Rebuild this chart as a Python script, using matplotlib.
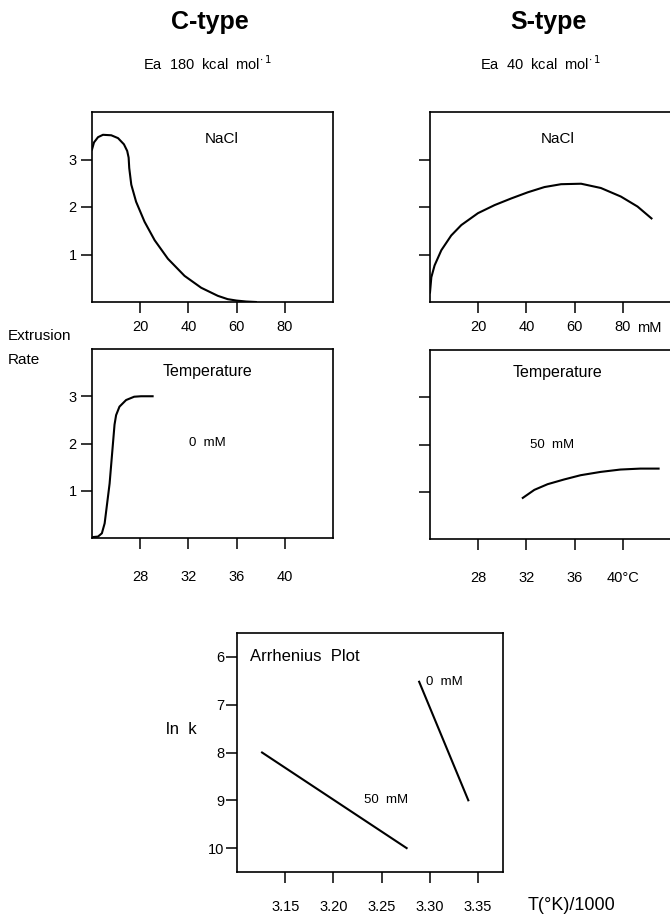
import matplotlib.pyplot as plt

plt.rcParams['font.family'] = ['Liberation Sans', 'DejaVu Sans']

# C-type, NaCl dependence (mM vs extrusion rate)
c_nacl_x = [0, 0.83, 2.5, 4.55, 8.0, 10.8, 13.25, 14.6, 15.2, 15.45, 16.3, 18.3, 21.8, 26.0, 31.5, 38.4, 45.3, 52.2, 56.3, 60, 64, 68]
c_nacl_y = [3.21, 3.36, 3.47, 3.52, 3.51, 3.45, 3.32, 3.18, 3.04, 2.82, 2.47, 2.11, 1.69, 1.30, 0.91, 0.55, 0.30, 0.13, 0.06, 0.03, 0.01, 0.0]

# S-type, NaCl dependence
s_nacl_x = [0, 0.55, 1.9, 4.7, 8.8, 13.0, 19.9, 26.8, 33.7, 40.6, 47.5, 54.4, 62.7, 70.9, 79.2, 86.1, 91.9]
s_nacl_y = [0.2, 0.52, 0.77, 1.09, 1.40, 1.62, 1.87, 2.04, 2.18, 2.31, 2.42, 2.48, 2.49, 2.40, 2.22, 2.01, 1.76]

# C-type, temperature dependence at 0 mM
c_temp_x = [24.0, 24.08, 24.5, 24.82, 25.05, 25.46, 25.87, 26.0, 26.28, 26.83, 27.5, 28.07, 29.03]
c_temp_y = [0.0, 0.02, 0.03, 0.1, 0.31, 1.15, 2.40, 2.6, 2.78, 2.92, 2.99, 3.0, 3.0]

# S-type, temperature dependence at 50 mM
s_temp_x = [31.7, 32.66, 33.76, 35.13, 36.5, 38.16, 39.8, 41.46, 42.97]
s_temp_y = [0.87, 1.04, 1.16, 1.26, 1.35, 1.42, 1.47, 1.49, 1.49]

# Arrhenius plot
arr_50_x = [3.126, 3.276]
arr_50_y = [8.0, 10.0]
arr_0_x = [3.289, 3.34]
arr_0_y = [6.52, 9.0]

rate_ticks = [1, 2, 3]
nacl_ticks = [20, 40, 60, 80]
temp_ticks = [28, 32, 36, 40]
lnk_ticks = [6, 7, 8, 9, 10]
inv_t_ticks = [3.15, 3.20, 3.25, 3.30, 3.35]

fig = plt.figure(figsize=(6.7, 9.14), dpi=100)
W, H = 670.0, 914.0
TICK_FS = 10.5


def make_ax(left, top, right, bottom):
    return fig.add_axes([left / W, 1 - bottom / H, (right - left) / W, (bottom - top) / H])


def style(ax, xpad, ylabels=True):
    for s in ax.spines.values():
        s.set_linewidth(1.2)
    ax.tick_params(direction='out', length=8, width=1.1, labelsize=TICK_FS)
    ax.tick_params(axis='x', pad=xpad)
    ax.tick_params(axis='y', pad=3, labelleft=ylabels)


lw = 1.5

# top-left
ax1 = make_ax(92, 112, 333, 302)
ax1.plot(c_nacl_x, c_nacl_y, color='black', lw=lw)
ax1.set_xlim(0, 100)
ax1.set_ylim(0, 4)
ax1.set_xticks(nacl_ticks)
ax1.set_yticks(rate_ticks)
style(ax1, 5)
ax1.text(0.54, 0.86, 'NaCl', transform=ax1.transAxes, ha='center', va='center', fontsize=11)

# top-right
ax2 = make_ax(430, 112, 671, 302)
ax2.plot(s_nacl_x, s_nacl_y, color='black', lw=lw)
ax2.set_xlim(0, 100)
ax2.set_ylim(0, 4)
ax2.set_xticks(nacl_ticks)
ax2.set_yticks(rate_ticks)
style(ax2, 5, ylabels=False)
ax2.text(0.53, 0.86, 'NaCl', transform=ax2.transAxes, ha='center', va='center', fontsize=11)
ax2.annotate('mM', xy=(80, 0), xycoords=('data', 'axes fraction'), xytext=(10, -5 - 8 - TICK_FS),
             textcoords='offset points', ha='left', va='bottom', fontsize=TICK_FS)

# middle-left
ax3 = make_ax(92, 349, 333, 538)
ax3.plot(c_temp_x, c_temp_y, color='black', lw=lw)
ax3.set_xlim(24, 44)
ax3.set_ylim(0, 4)
ax3.set_xticks(temp_ticks)
ax3.set_yticks(rate_ticks)
style(ax3, 15)
ax3.text(0.48, 0.88, 'Temperature', transform=ax3.transAxes, ha='center', va='center', fontsize=11.5)
ax3.text(0.48, 0.50, '0  mM', transform=ax3.transAxes, ha='center', va='center', fontsize=9.5)

# middle-right
ax4 = make_ax(430, 350, 671, 539)
ax4.plot(s_temp_x, s_temp_y, color='black', lw=lw)
ax4.set_xlim(24, 44)
ax4.set_ylim(0, 4)
ax4.set_xticks(temp_ticks)
ax4.set_xticklabels(['28', '32', '36', '40°C'])
ax4.set_yticks(rate_ticks)
style(ax4, 15, ylabels=False)
ax4.text(0.53, 0.88, 'Temperature', transform=ax4.transAxes, ha='center', va='center', fontsize=11.5)
ax4.text(0.505, 0.50, '50  mM', transform=ax4.transAxes, ha='center', va='center', fontsize=9.5)

# Arrhenius
ax5 = make_ax(237, 633, 503, 872)
ax5.plot(arr_50_x, arr_50_y, color='black', lw=lw)
ax5.plot(arr_0_x, arr_0_y, color='black', lw=lw)
ax5.set_xlim(3.10, 3.376)
ax5.set_ylim(10.5, 5.5)
ax5.set_xticks(inv_t_ticks)
ax5.set_xticklabels(['3.15', '3.20', '3.25', '3.30', '3.35'])
ax5.set_yticks(lnk_ticks)
style(ax5, 12)
ax5.tick_params(axis='y', pad=1)
ax5.text(3.113, 6.0, 'Arrhenius  Plot', ha='left', va='center', fontsize=12)
ax5.text(3.296, 6.52, '0  mM', ha='left', va='center', fontsize=9.5)
ax5.text(3.232, 9.0, '50  mM', ha='left', va='center', fontsize=9.5)

# figure texts
fig.text(210 / W, 1 - 22 / H, 'C-type', ha='center', va='center', fontsize=18, fontweight='bold')
fig.text(548 / W, 1 - 22 / H, 'S-type', ha='center', va='center', fontsize=18, fontweight='bold')
fig.text(207 / W, 1 - 64 / H, 'Ea  180  kcal  mol$^{\\cdot\\,1}$', ha='center', va='center', fontsize=10.5)
fig.text(540 / W, 1 - 64 / H, 'Ea  40  kcal  mol$^{\\cdot\\,1}$', ha='center', va='center', fontsize=10.5)
fig.text(8 / W, 1 - 336 / H, 'Extrusion', ha='left', va='center', fontsize=11)
fig.text(8 / W, 1 - 360 / H, 'Rate', ha='left', va='center', fontsize=11)
fig.text(181 / W, 1 - 729 / H, 'ln  k', ha='center', va='center', fontsize=12)
fig.text(528 / W, 1 - 905 / H, 'T(°K)/1000', ha='left', va='center', fontsize=13)

fig.savefig('out.png', dpi=100)
